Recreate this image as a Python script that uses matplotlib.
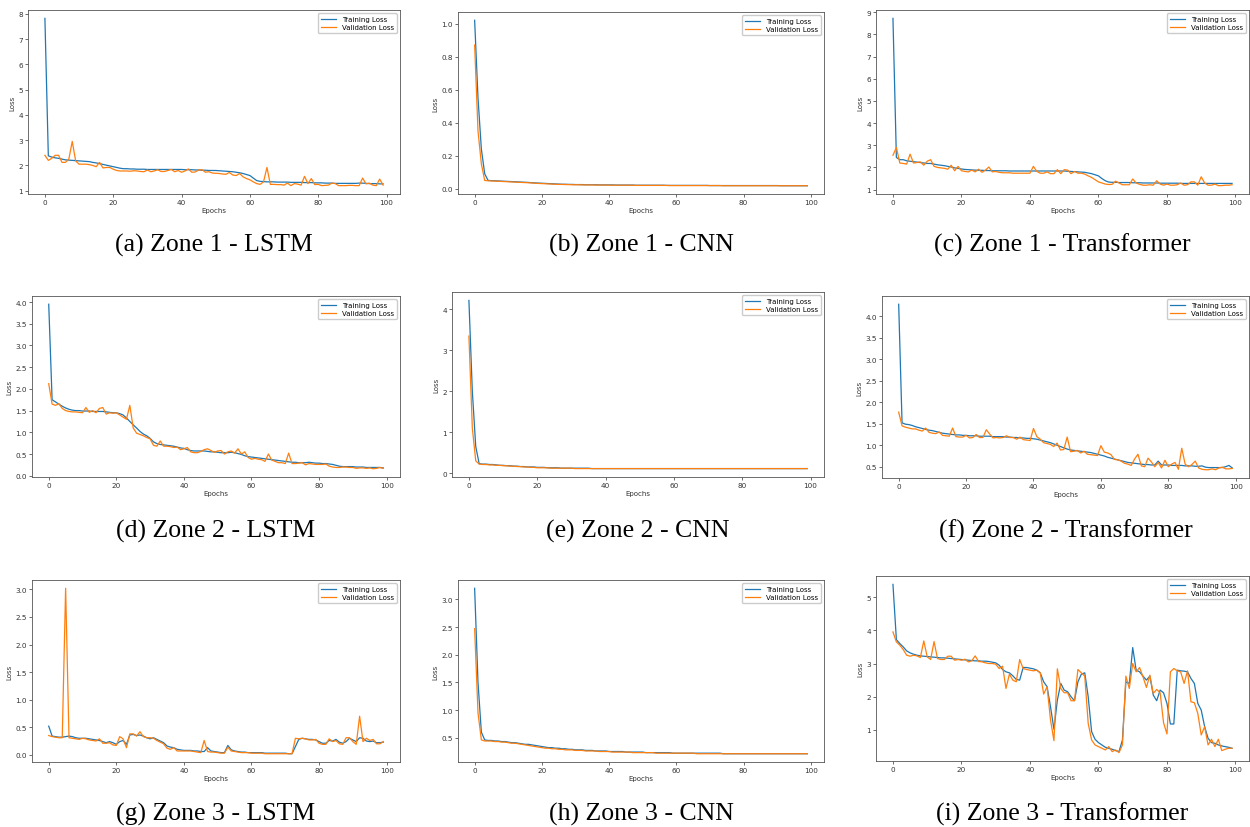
import matplotlib.pyplot as plt

# ---- data: loss per epoch (100 epochs) ----
epochs = list(range(100))

z1_lstm_train = [7.82, 2.38, 2.33, 2.30, 2.28, 2.25, 2.22, 2.21, 2.20, 2.19,
                 2.18, 2.17, 2.16, 2.15, 2.12, 2.10, 2.07, 2.04, 2.01, 1.98,
                 1.95, 1.92, 1.89, 1.87, 1.87, 1.86, 1.86, 1.85, 1.85, 1.85,
                 1.84, 1.84, 1.84, 1.84, 1.84, 1.84, 1.84, 1.84, 1.84, 1.84,
                 1.84, 1.83, 1.83, 1.83, 1.82, 1.82, 1.81, 1.81, 1.80, 1.80,
                 1.80, 1.79, 1.78, 1.77, 1.76, 1.75, 1.73, 1.71, 1.68, 1.64,
                 1.60, 1.50, 1.40, 1.37, 1.36, 1.35, 1.35, 1.35, 1.34, 1.34,
                 1.34, 1.34, 1.33, 1.33, 1.33, 1.33, 1.32, 1.32, 1.32, 1.31,
                 1.31, 1.31, 1.30, 1.30, 1.30, 1.29, 1.29, 1.29, 1.29, 1.29,
                 1.29, 1.29, 1.30, 1.30, 1.29, 1.28, 1.28, 1.28, 1.27, 1.27]
z1_lstm_val = [2.40, 2.20, 2.28, 2.40, 2.40, 2.12, 2.12, 2.25, 2.95, 2.18,
               2.05, 2.05, 2.05, 2.03, 2.00, 1.95, 2.12, 1.90, 1.92, 1.92,
               1.85, 1.80, 1.78, 1.78, 1.78, 1.77, 1.79, 1.78, 1.76, 1.75,
               1.82, 1.75, 1.78, 1.83, 1.76, 1.76, 1.80, 1.84, 1.75, 1.80,
               1.73, 1.78, 1.86, 1.73, 1.74, 1.82, 1.83, 1.73, 1.75, 1.70,
               1.69, 1.68, 1.66, 1.65, 1.72, 1.62, 1.60, 1.68, 1.55, 1.48,
               1.43, 1.35, 1.28, 1.25, 1.35, 1.92, 1.25, 1.25, 1.24, 1.24,
               1.22, 1.30, 1.20, 1.28, 1.26, 1.22, 1.57, 1.28, 1.48, 1.24,
               1.25, 1.20, 1.21, 1.22, 1.30, 1.28, 1.20, 1.20, 1.20, 1.21,
               1.21, 1.20, 1.20, 1.50, 1.27, 1.30, 1.22, 1.20, 1.46, 1.22]

z1_cnn_train = [1.02, 0.55, 0.24, 0.09, 0.050, 0.049, 0.048, 0.047, 0.046, 0.045,
                0.044, 0.043, 0.042, 0.041, 0.040, 0.039, 0.038, 0.036, 0.035, 0.034,
                0.033, 0.032, 0.031, 0.030, 0.029, 0.028, 0.027, 0.027, 0.026, 0.026,
                0.025, 0.025, 0.025, 0.024, 0.024, 0.024, 0.024, 0.023, 0.023, 0.023,
                0.023, 0.023, 0.022, 0.022, 0.022, 0.022, 0.022, 0.022, 0.021, 0.021,
                0.021, 0.021, 0.021, 0.021, 0.021, 0.021, 0.021, 0.020, 0.020, 0.020,
                0.020, 0.020, 0.020, 0.020, 0.020, 0.020, 0.020, 0.020, 0.020, 0.020,
                0.019, 0.019, 0.019, 0.019, 0.019, 0.019, 0.019, 0.019, 0.019, 0.019,
                0.019, 0.019, 0.019, 0.019, 0.019, 0.019, 0.019, 0.019, 0.019, 0.019,
                0.019, 0.018, 0.018, 0.018, 0.018, 0.018, 0.018, 0.018, 0.018, 0.018]
z1_cnn_val = [0.87, 0.35, 0.15, 0.05, 0.048, 0.047, 0.046, 0.045, 0.044, 0.043,
              0.042, 0.041, 0.040, 0.039, 0.038, 0.037, 0.036, 0.035, 0.033, 0.032,
              0.031, 0.030, 0.029, 0.028, 0.027, 0.026, 0.026, 0.025, 0.025, 0.024,
              0.024, 0.024, 0.023, 0.023, 0.023, 0.023, 0.022, 0.022, 0.022, 0.022,
              0.022, 0.021, 0.021, 0.021, 0.021, 0.021, 0.021, 0.021, 0.020, 0.020,
              0.020, 0.020, 0.020, 0.020, 0.020, 0.020, 0.020, 0.020, 0.019, 0.019,
              0.019, 0.019, 0.019, 0.019, 0.019, 0.019, 0.019, 0.019, 0.019, 0.019,
              0.019, 0.019, 0.019, 0.019, 0.018, 0.018, 0.018, 0.018, 0.018, 0.018,
              0.018, 0.018, 0.018, 0.018, 0.018, 0.018, 0.018, 0.018, 0.018, 0.018,
              0.018, 0.018, 0.018, 0.018, 0.018, 0.018, 0.018, 0.018, 0.018, 0.018]

z1_tf_train = [8.72, 2.45, 2.35, 2.35, 2.30, 2.28, 2.26, 2.24, 2.22, 2.20,
               2.18, 2.18, 2.15, 2.12, 2.10, 2.08, 2.05, 2.02, 1.98, 1.96,
               1.93, 1.91, 1.90, 1.89, 1.88, 1.87, 1.87, 1.86, 1.86, 1.85,
               1.85, 1.85, 1.85, 1.85, 1.84, 1.84, 1.84, 1.84, 1.84, 1.84,
               1.84, 1.84, 1.84, 1.84, 1.84, 1.84, 1.84, 1.84, 1.84, 1.84,
               1.84, 1.83, 1.82, 1.81, 1.80, 1.79, 1.78, 1.75, 1.72, 1.67,
               1.62, 1.50, 1.40, 1.34, 1.33, 1.33, 1.32, 1.32, 1.32, 1.32,
               1.31, 1.31, 1.31, 1.30, 1.30, 1.30, 1.30, 1.30, 1.29, 1.29,
               1.29, 1.29, 1.29, 1.29, 1.28, 1.28, 1.28, 1.28, 1.28, 1.28,
               1.28, 1.28, 1.28, 1.28, 1.28, 1.28, 1.28, 1.28, 1.28, 1.28]
z1_tf_val = [2.55, 2.90, 2.20, 2.18, 2.15, 2.60, 2.20, 2.22, 2.25, 2.10,
             2.28, 2.35, 2.05, 2.00, 1.98, 1.96, 1.92, 2.10, 1.85, 2.05,
             1.85, 1.82, 1.80, 1.88, 1.80, 1.92, 1.78, 1.88, 2.02, 1.80,
             1.82, 1.78, 1.76, 1.76, 1.76, 1.74, 1.74, 1.74, 1.74, 1.74,
             1.74, 2.05, 1.82, 1.74, 1.74, 1.80, 1.72, 1.72, 1.90, 1.72,
             1.90, 1.88, 1.72, 1.82, 1.74, 1.74, 1.70, 1.62, 1.55, 1.45,
             1.35, 1.30, 1.25, 1.23, 1.24, 1.38, 1.30, 1.22, 1.22, 1.22,
             1.48, 1.30, 1.24, 1.20, 1.20, 1.22, 1.20, 1.40, 1.25, 1.20,
             1.25, 1.20, 1.20, 1.22, 1.30, 1.20, 1.22, 1.35, 1.35, 1.20,
             1.58, 1.30, 1.20, 1.20, 1.25, 1.18, 1.18, 1.20, 1.20, 1.22]

z2_lstm_train = [3.95, 1.75, 1.70, 1.65, 1.60, 1.56, 1.53, 1.51, 1.50, 1.50,
                 1.49, 1.49, 1.49, 1.48, 1.48, 1.48, 1.48, 1.47, 1.46, 1.45,
                 1.45, 1.43, 1.40, 1.33, 1.25, 1.17, 1.10, 1.02, 0.96, 0.92,
                 0.86, 0.78, 0.74, 0.72, 0.71, 0.70, 0.69, 0.68, 0.66, 0.64,
                 0.63, 0.60, 0.58, 0.57, 0.57, 0.57, 0.57, 0.56, 0.55, 0.55,
                 0.54, 0.53, 0.53, 0.53, 0.54, 0.53, 0.51, 0.49, 0.46, 0.44,
                 0.43, 0.42, 0.41, 0.40, 0.39, 0.38, 0.37, 0.36, 0.35, 0.34,
                 0.33, 0.32, 0.31, 0.31, 0.30, 0.30, 0.30, 0.31, 0.30, 0.29,
                 0.29, 0.28, 0.28, 0.27, 0.26, 0.24, 0.22, 0.21, 0.21, 0.21,
                 0.21, 0.20, 0.20, 0.20, 0.19, 0.19, 0.19, 0.19, 0.19, 0.18]
z2_lstm_val = [2.12, 1.65, 1.62, 1.66, 1.55, 1.50, 1.48, 1.47, 1.47, 1.46,
               1.45, 1.57, 1.46, 1.50, 1.45, 1.55, 1.57, 1.42, 1.45, 1.44,
               1.45, 1.40, 1.35, 1.30, 1.62, 1.10, 0.98, 0.95, 0.92, 0.88,
               0.85, 0.70, 0.68, 0.80, 0.68, 0.68, 0.67, 0.65, 0.66, 0.60,
               0.62, 0.65, 0.55, 0.53, 0.53, 0.56, 0.60, 0.62, 0.58, 0.54,
               0.57, 0.58, 0.50, 0.55, 0.57, 0.52, 0.62, 0.50, 0.55, 0.42,
               0.38, 0.40, 0.38, 0.37, 0.33, 0.50, 0.36, 0.33, 0.30, 0.30,
               0.28, 0.52, 0.28, 0.28, 0.29, 0.30, 0.25, 0.28, 0.27, 0.26,
               0.26, 0.26, 0.27, 0.22, 0.20, 0.19, 0.19, 0.20, 0.20, 0.19,
               0.19, 0.17, 0.18, 0.18, 0.17, 0.18, 0.16, 0.17, 0.19, 0.17]

z2_cnn_train = [4.22, 2.00, 0.65, 0.23, 0.22, 0.22, 0.21, 0.21, 0.20, 0.19,
                0.19, 0.18, 0.18, 0.17, 0.17, 0.16, 0.16, 0.15, 0.15, 0.15,
                0.14, 0.14, 0.14, 0.13, 0.13, 0.13, 0.13, 0.12, 0.12, 0.12,
                0.12, 0.12, 0.12, 0.12, 0.12, 0.12, 0.11, 0.11, 0.11, 0.11,
                0.11, 0.11, 0.11, 0.11, 0.11, 0.11, 0.11, 0.11, 0.11, 0.11,
                0.11, 0.11, 0.11, 0.11, 0.11, 0.11, 0.11, 0.11, 0.11, 0.11,
                0.11, 0.11, 0.11, 0.11, 0.11, 0.11, 0.11, 0.11, 0.11, 0.11,
                0.11, 0.11, 0.11, 0.11, 0.11, 0.11, 0.11, 0.11, 0.11, 0.11,
                0.11, 0.11, 0.11, 0.11, 0.11, 0.11, 0.11, 0.11, 0.11, 0.11,
                0.11, 0.11, 0.11, 0.11, 0.11, 0.11, 0.11, 0.11, 0.11, 0.11]
z2_cnn_val = [3.35, 1.10, 0.30, 0.22, 0.21, 0.21, 0.20, 0.20, 0.19, 0.19,
              0.18, 0.18, 0.17, 0.17, 0.16, 0.16, 0.15, 0.15, 0.14, 0.14,
              0.13, 0.13, 0.13, 0.13, 0.12, 0.12, 0.12, 0.12, 0.12, 0.12,
              0.12, 0.11, 0.11, 0.11, 0.11, 0.11, 0.11, 0.11, 0.11, 0.11,
              0.11, 0.11, 0.11, 0.11, 0.11, 0.11, 0.11, 0.11, 0.11, 0.11,
              0.11, 0.11, 0.11, 0.11, 0.11, 0.11, 0.11, 0.11, 0.11, 0.11,
              0.11, 0.11, 0.11, 0.11, 0.11, 0.11, 0.11, 0.11, 0.11, 0.11,
              0.11, 0.11, 0.11, 0.11, 0.11, 0.11, 0.11, 0.11, 0.11, 0.11,
              0.11, 0.11, 0.11, 0.11, 0.11, 0.11, 0.11, 0.11, 0.11, 0.11,
              0.11, 0.11, 0.11, 0.11, 0.11, 0.11, 0.11, 0.11, 0.11, 0.11]

z2_tf_train = [4.28, 1.52, 1.49, 1.48, 1.46, 1.43, 1.41, 1.39, 1.37, 1.35,
               1.34, 1.32, 1.30, 1.28, 1.27, 1.26, 1.25, 1.24, 1.24, 1.23,
               1.23, 1.22, 1.22, 1.22, 1.21, 1.21, 1.21, 1.21, 1.20, 1.20,
               1.20, 1.20, 1.19, 1.19, 1.18, 1.18, 1.17, 1.17, 1.16, 1.16,
               1.15, 1.14, 1.12, 1.10, 1.08, 1.06, 1.03, 1.00, 0.97, 0.94,
               0.91, 0.89, 0.88, 0.87, 0.86, 0.85, 0.84, 0.83, 0.81, 0.79,
               0.77, 0.75, 0.72, 0.70, 0.68, 0.66, 0.64, 0.62, 0.60, 0.59,
               0.58, 0.57, 0.56, 0.55, 0.55, 0.54, 0.54, 0.63, 0.54, 0.54,
               0.54, 0.53, 0.53, 0.53, 0.53, 0.52, 0.52, 0.52, 0.51, 0.51,
               0.52, 0.49, 0.48, 0.48, 0.48, 0.48, 0.48, 0.50, 0.53, 0.47]
z2_tf_val = [1.77, 1.45, 1.42, 1.40, 1.38, 1.38, 1.35, 1.33, 1.40, 1.30,
             1.28, 1.27, 1.31, 1.23, 1.22, 1.21, 1.40, 1.20, 1.19, 1.19,
             1.23, 1.17, 1.18, 1.25, 1.18, 1.18, 1.36, 1.26, 1.17, 1.18,
             1.17, 1.18, 1.22, 1.18, 1.18, 1.14, 1.19, 1.13, 1.12, 1.11,
             1.39, 1.20, 1.14, 1.06, 1.04, 1.02, 0.97, 1.05, 0.89, 0.90,
             1.19, 0.85, 0.86, 0.88, 0.82, 0.86, 0.79, 0.78, 0.77, 0.76,
             0.99, 0.84, 0.82, 0.78, 0.67, 0.66, 0.63, 0.58, 0.56, 0.53,
             0.68, 0.79, 0.52, 0.50, 0.70, 0.61, 0.50, 0.60, 0.47, 0.65,
             0.50, 0.56, 0.60, 0.44, 0.93, 0.56, 0.50, 0.55, 0.63, 0.47,
             0.44, 0.43, 0.43, 0.45, 0.43, 0.47, 0.49, 0.45, 0.45, 0.46]

z3_lstm_train = [0.52, 0.34, 0.33, 0.32, 0.32, 0.33, 0.34, 0.33, 0.31, 0.30,
                 0.30, 0.30, 0.29, 0.28, 0.27, 0.26, 0.24, 0.22, 0.24, 0.22,
                 0.19, 0.24, 0.26, 0.19, 0.36, 0.37, 0.35, 0.36, 0.34, 0.31,
                 0.29, 0.31, 0.28, 0.25, 0.22, 0.16, 0.14, 0.13, 0.10, 0.09,
                 0.08, 0.08, 0.08, 0.07, 0.07, 0.06, 0.06, 0.13, 0.07, 0.06,
                 0.05, 0.04, 0.04, 0.17, 0.09, 0.07, 0.06, 0.05, 0.05, 0.04,
                 0.04, 0.04, 0.04, 0.04, 0.03, 0.03, 0.03, 0.03, 0.03, 0.03,
                 0.03, 0.02, 0.02, 0.15, 0.28, 0.30, 0.29, 0.28, 0.28, 0.27,
                 0.24, 0.21, 0.21, 0.26, 0.25, 0.28, 0.23, 0.21, 0.24, 0.30,
                 0.27, 0.24, 0.31, 0.30, 0.25, 0.24, 0.25, 0.22, 0.22, 0.23]
z3_lstm_val = [0.35, 0.33, 0.32, 0.31, 0.31, 3.02, 0.31, 0.30, 0.29, 0.28,
               0.30, 0.29, 0.27, 0.26, 0.25, 0.29, 0.21, 0.21, 0.22, 0.18,
               0.17, 0.33, 0.29, 0.13, 0.38, 0.38, 0.34, 0.42, 0.33, 0.31,
               0.31, 0.30, 0.26, 0.23, 0.20, 0.12, 0.10, 0.13, 0.07, 0.07,
               0.07, 0.07, 0.07, 0.06, 0.05, 0.04, 0.26, 0.06, 0.05, 0.05,
               0.04, 0.03, 0.03, 0.14, 0.07, 0.06, 0.05, 0.04, 0.04, 0.04,
               0.03, 0.03, 0.03, 0.03, 0.02, 0.02, 0.02, 0.02, 0.02, 0.02,
               0.02, 0.02, 0.02, 0.30, 0.29, 0.30, 0.29, 0.27, 0.27, 0.28,
               0.21, 0.19, 0.19, 0.29, 0.24, 0.26, 0.20, 0.19, 0.31, 0.31,
               0.24, 0.19, 0.70, 0.24, 0.30, 0.26, 0.28, 0.20, 0.20, 0.24]

z3_cnn_train = [3.20, 1.50, 0.60, 0.46, 0.45, 0.45, 0.44, 0.44, 0.43, 0.43,
                0.42, 0.41, 0.41, 0.40, 0.39, 0.38, 0.38, 0.37, 0.36, 0.35,
                0.34, 0.33, 0.32, 0.32, 0.31, 0.31, 0.30, 0.30, 0.29, 0.29,
                0.28, 0.28, 0.28, 0.27, 0.27, 0.27, 0.26, 0.26, 0.26, 0.26,
                0.25, 0.25, 0.25, 0.25, 0.25, 0.24, 0.24, 0.24, 0.24, 0.24,
                0.24, 0.23, 0.23, 0.23, 0.23, 0.23, 0.23, 0.23, 0.23, 0.22,
                0.22, 0.22, 0.22, 0.22, 0.22, 0.22, 0.22, 0.22, 0.22, 0.22,
                0.22, 0.22, 0.22, 0.22, 0.21, 0.21, 0.21, 0.21, 0.21, 0.21,
                0.21, 0.21, 0.21, 0.21, 0.21, 0.21, 0.21, 0.21, 0.21, 0.21,
                0.21, 0.21, 0.21, 0.21, 0.21, 0.21, 0.21, 0.21, 0.21, 0.21]
z3_cnn_val = [2.47, 0.95, 0.46, 0.44, 0.44, 0.44, 0.43, 0.43, 0.42, 0.42,
              0.41, 0.40, 0.40, 0.39, 0.38, 0.37, 0.36, 0.35, 0.34, 0.33,
              0.32, 0.31, 0.31, 0.30, 0.30, 0.29, 0.29, 0.28, 0.28, 0.28,
              0.27, 0.27, 0.27, 0.26, 0.26, 0.26, 0.26, 0.25, 0.25, 0.25,
              0.25, 0.24, 0.24, 0.24, 0.24, 0.24, 0.24, 0.23, 0.23, 0.23,
              0.23, 0.23, 0.23, 0.23, 0.22, 0.22, 0.22, 0.22, 0.22, 0.22,
              0.22, 0.22, 0.22, 0.22, 0.22, 0.22, 0.21, 0.21, 0.21, 0.21,
              0.21, 0.21, 0.21, 0.21, 0.21, 0.21, 0.21, 0.21, 0.21, 0.21,
              0.21, 0.21, 0.21, 0.21, 0.21, 0.21, 0.21, 0.21, 0.21, 0.21,
              0.21, 0.21, 0.21, 0.21, 0.21, 0.21, 0.21, 0.21, 0.21, 0.21]

z3_tf_train = [5.38, 3.72, 3.60, 3.50, 3.38, 3.32, 3.28, 3.25, 3.23, 3.22,
               3.21, 3.20, 3.19, 3.18, 3.17, 3.17, 3.16, 3.15, 3.14, 3.13,
               3.12, 3.11, 3.10, 3.09, 3.08, 3.08, 3.07, 3.07, 3.06, 3.04,
               3.02, 2.95, 2.82, 2.75, 2.72, 2.63, 2.52, 2.50, 2.88, 2.88,
               2.86, 2.84, 2.80, 2.72, 2.45, 2.30, 1.70, 1.02, 1.90, 2.40,
               2.20, 2.15, 2.00, 1.88, 2.45, 2.68, 2.72, 2.00, 0.95, 0.72,
               0.62, 0.55, 0.48, 0.45, 0.42, 0.38, 0.35, 0.70, 2.45, 2.40,
               3.48, 2.80, 2.75, 2.62, 2.50, 2.62, 2.05, 1.88, 2.20, 2.12,
               1.80, 1.18, 1.18, 2.80, 2.78, 2.77, 2.75, 2.55, 2.40, 1.80,
               1.60, 1.10, 0.75, 0.62, 0.60, 0.55, 0.52, 0.50, 0.48, 0.45]
z3_tf_val = [3.95, 3.65, 3.55, 3.42, 3.25, 3.22, 3.25, 3.23, 3.18, 3.68,
             3.20, 3.12, 3.66, 3.15, 3.12, 3.12, 3.22, 3.22, 3.10, 3.12,
             3.10, 3.13, 3.05, 3.08, 3.23, 3.06, 3.05, 3.02, 3.00, 3.00,
             2.98, 2.85, 2.92, 2.25, 2.68, 2.50, 2.45, 3.12, 2.85, 2.82,
             2.80, 2.78, 2.80, 2.72, 2.08, 2.30, 1.30, 0.68, 2.84, 2.25,
             2.12, 2.12, 1.88, 1.88, 2.82, 2.72, 2.62, 1.20, 0.70, 0.55,
             0.50, 0.45, 0.40, 0.50, 0.35, 0.40, 0.32, 0.55, 2.62, 2.25,
             3.00, 2.75, 2.88, 2.60, 2.28, 2.65, 2.10, 2.22, 2.12, 1.22,
             0.88, 2.75, 2.85, 2.78, 2.75, 2.40, 2.78, 1.85, 1.82, 1.50,
             0.85, 1.10, 0.55, 0.72, 0.50, 0.72, 0.38, 0.42, 0.45, 0.45]

captions = ["(a) Zone 1 - LSTM", "(b) Zone 1 - CNN", "(c) Zone 1 - Transformer",
            "(d) Zone 2 - LSTM", "(e) Zone 2 - CNN", "(f) Zone 2 - Transformer",
            "(g) Zone 3 - LSTM", "(h) Zone 3 - CNN", "(i) Zone 3 - Transformer"]
train_series = [z1_lstm_train, z1_cnn_train, z1_tf_train,
                z2_lstm_train, z2_cnn_train, z2_tf_train,
                z3_lstm_train, z3_cnn_train, z3_tf_train]
val_series = [z1_lstm_val, z1_cnn_val, z1_tf_val,
              z2_lstm_val, z2_cnn_val, z2_tf_val,
              z3_lstm_val, z3_cnn_val, z3_tf_val]

# axes boxes in pixels: left, top, right, bottom
boxes = [(28, 11, 400, 195), (458, 13, 824, 195), (876, 11, 1249, 195),
         (32, 297, 400, 478), (452, 293, 824, 478), (882, 297, 1249, 479),
         (32, 581, 400, 763), (458, 581, 824, 763), (876, 577, 1249, 762)]
caption_y = [245, 531, 814]

W, H = 1250, 828
fig = plt.figure(figsize=(W / 100, H / 100), dpi=100)

for k in range(9):
    l, t, r, b = boxes[k]
    ax = fig.add_axes([l / W, 1 - b / H, (r - l) / W, (b - t) / H])
    ax.plot(epochs, train_series[k], color="#1f77b4", lw=0.9, label="Training Loss")
    ax.plot(epochs, val_series[k], color="#ff7f0e", lw=0.9, label="Validation Loss")
    ax.set_xlabel("Epochs", fontsize=5, color="#333333", labelpad=1.5)
    ax.set_ylabel("Loss", fontsize=5, color="#333333", labelpad=2)
    ax.tick_params(labelsize=5.2, length=2, width=0.5, pad=1.5, colors="#333333")
    for s in ax.spines.values():
        s.set_linewidth(0.6)
        s.set_color("#555555")
    ax.legend(loc="upper right", fontsize=5, handlelength=2.2, borderpad=0.4,
              labelspacing=0.3, framealpha=1)
    fig.text((l + r) / 2 / W, 1 - caption_y[k // 3] / H, captions[k],
             ha="center", va="center", fontsize=18.5, family="Liberation Serif")

fig.savefig("out.png", dpi=100)
